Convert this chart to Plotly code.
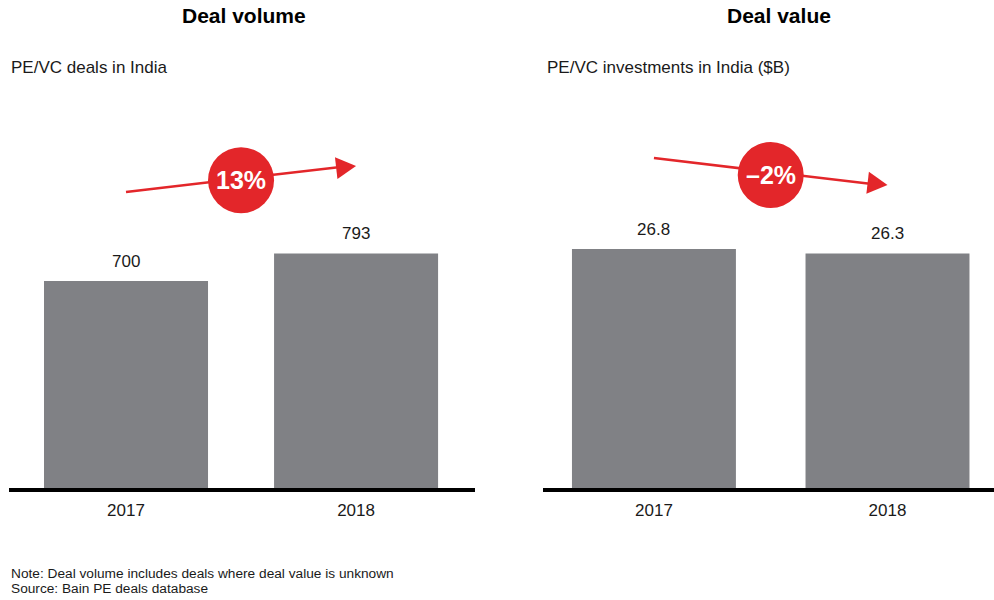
import math
import plotly.graph_objects as go

# Data
years = ["2017", "2018"]
deal_volume = [700, 793]
deal_value = [26.8, 26.3]
volume_growth = "13%"
value_growth = "\u20132%"

titles = ["Deal volume", "Deal value"]
subtitles = ["PE/VC deals in India", "PE/VC investments in India ($B)"]
notes = ["Note: Deal volume includes deals where deal value is unknown",
         "Source: Bain PE deals database"]

BAR = "#808185"
RED = "#E3262A"
TEXT = "#1a1a1a"
FONT = "Arial, 'Liberation Sans', sans-serif"
W, H = 994, 600

fig = go.Figure()

fig.add_trace(go.Bar(x=years, y=deal_volume, width=0.713, marker=dict(color=BAR, line_width=0),
                     xaxis="x", yaxis="y", hoverinfo="skip"))
fig.add_trace(go.Bar(x=years, y=deal_value, width=0.702, marker=dict(color=BAR, line_width=0),
                     xaxis="x2", yaxis="y2", hoverinfo="skip"))


def px_x(p):
    return p / W


def px_y(p):
    return 1 - p / H


ydom = [px_y(488), px_y(100)]
axis_common = dict(type="category", showgrid=False, zeroline=False, showline=False, ticks="",
                   ticklabelstandoff=10,
                   tickfont=dict(family=FONT, size=17, color=TEXT))
fig.update_layout(
    xaxis=dict(domain=[px_x(9), px_x(475)], range=[-0.5087, 1.517], anchor="y", **axis_common),
    yaxis=dict(domain=ydom, range=[0, 1312], visible=False, anchor="x"),
    xaxis2=dict(domain=[px_x(543), 1.0], range=[-0.475, 1.456], anchor="y2", **axis_common),
    yaxis2=dict(domain=ydom, range=[0, 43.51], visible=False, anchor="x2"),
)

annotations = []
shapes = []

# Value labels above bars (x given as category index)
for xr, yr, vals, fmt in [("x", "y", deal_volume, "{:.0f}"), ("x2", "y2", deal_value, "{:.1f}")]:
    for i, v in enumerate(vals):
        annotations.append(dict(x=i, y=v, xref=xr, yref=yr, text=fmt.format(v),
                                showarrow=False, yanchor="bottom", yshift=8,
                                font=dict(family=FONT, size=17, color=TEXT)))

# Thick baselines
shapes.append(dict(type="line", xref="paper", yref="paper", x0=px_x(9), x1=px_x(475),
                   y0=px_y(490), y1=px_y(490), line=dict(color="black", width=4)))
shapes.append(dict(type="line", xref="paper", yref="paper", x0=px_x(543), x1=1.0,
                   y0=px_y(490), y1=px_y(490), line=dict(color="black", width=4)))


def arrow_line(xr, yr, y_tail, y_tip):
    shapes.append(dict(type="line", xref=xr, yref=yr, x0=0, y0=y_tail, x1=0.97, y1=y_tip,
                       line=dict(color=RED, width=2.5), layer="above"))


def arrow_head(xr, yr, x_tip, y_tip, dx, dy):
    ang = math.atan2(dy, dx)
    L, hw = 20, 11
    bx, by = -L * math.cos(ang), -L * math.sin(ang)
    nx, ny = -math.sin(ang) * hw, math.cos(ang) * hw
    path = "M 0 0 L {:.2f} {:.2f} L {:.2f} {:.2f} Z".format(bx + nx, by + ny, bx - nx, by - ny)
    shapes.append(dict(type="path", xref=xr, yref=yr, xsizemode="pixel", ysizemode="pixel",
                       xanchor=x_tip, yanchor=y_tip, path=path,
                       fillcolor=RED, line=dict(color=RED, width=0)))


def badge(xr, yr, yc, label):
    shapes.append(dict(type="circle", xref=xr, yref=yr, xsizemode="pixel", ysizemode="pixel",
                       xanchor=0.5, yanchor=yc, x0=-33, x1=33, y0=-33, y1=33,
                       fillcolor=RED, line=dict(color=RED, width=0)))
    annotations.append(dict(x=0.5, y=yc, xref=xr, yref=yr, text="<b>" + label + "</b>",
                            showarrow=False, font=dict(family=FONT, size=25, color="white")))


# Growth arrows with a red badge
arrow_line("x", "y", 1001, 1089)
arrow_head("x", "y", 1.0, 1089, 231, 26)
badge("x", "y", 1041, volume_growth)

arrow_line("x2", "y2", 37.0, 33.98)
arrow_head("x2", "y2", 1.0, 33.98, 235, -27)
badge("x2", "y2", 35.1, value_growth)

# Panel titles and subtitles
for xc, t in [(244, titles[0]), (779, titles[1])]:
    annotations.append(dict(x=px_x(xc), y=px_y(16), xref="paper", yref="paper", text="<b>" + t + "</b>",
                            showarrow=False, xanchor="center", yanchor="middle",
                            font=dict(family=FONT, size=21, color="black")))
for xl, t in [(9, subtitles[0]), (545, subtitles[1])]:
    annotations.append(dict(x=px_x(xl), y=px_y(68), xref="paper", yref="paper", text=t,
                            showarrow=False, xanchor="left", yanchor="middle",
                            font=dict(family=FONT, size=17, color=TEXT)))

# Footnotes
for i, t in enumerate(notes):
    annotations.append(dict(x=px_x(9), y=px_y(573 + 15.5 * i), xref="paper", yref="paper", text=t,
                            showarrow=False, xanchor="left", yanchor="middle",
                            font=dict(family=FONT, size=13.7, color=TEXT)))

fig.update_layout(
    width=W, height=H, margin=dict(l=0, r=0, t=0, b=0),
    paper_bgcolor="white", plot_bgcolor="white", showlegend=False,
    annotations=annotations, shapes=shapes,
)

fig.write_html("out.html", config={"displayModeBar": False})
